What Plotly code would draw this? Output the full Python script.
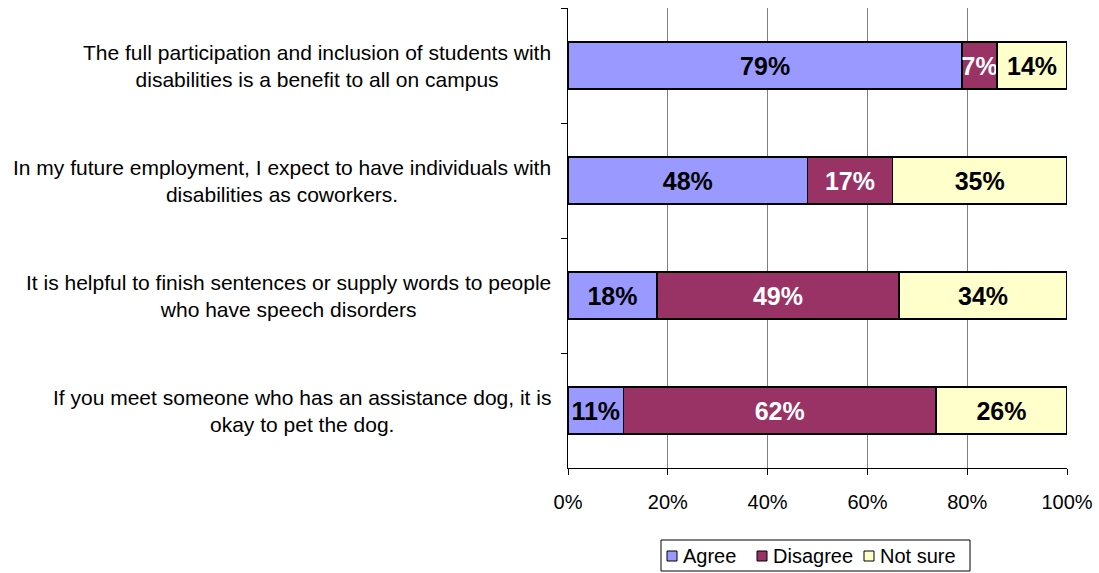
import plotly.graph_objects as go

statements = [
    "The full participation and inclusion of students with<br>disabilities is a benefit to all on campus",
    "In my future employment, I expect to have individuals with<br>disabilities as coworkers.",
    "It is helpful to finish sentences or supply words to people<br>who have speech disorders",
    "If you meet someone who has an assistance dog, it is<br>okay to pet the dog.",
]
agree = [79, 48, 18, 11]
disagree = [7, 17, 49, 62]
not_sure = [14, 35, 34, 26]

series_names = ["Agree", "Disagree", "Not sure"]
series_values = [agree, disagree, not_sure]
series_colors = ["#9999FF", "#993366", "#FFFFCC"]
label_colors = ["black", "white", "black"]

FONT = "Liberation Sans, Arial, sans-serif"

W, H = 1099, 573
ML, MR, MT, MB = 568, 32, 8, 105
PW, PH = W - ML - MR, H - MT - MB


def px_to_paper(px, py):
    return (px - ML) / PW, (H - MB - py) / PH


fig = go.Figure()
for name, vals, color, txtcol in zip(series_names, series_values, series_colors, label_colors):
    fig.add_trace(go.Bar(
        name=name,
        y=statements,
        x=vals,
        orientation="h",
        marker=dict(color=color, line=dict(color="black", width=1.5)),
        text=[f"{v}%" for v in vals],
        textposition="inside",
        insidetextanchor="middle",
        textangle=0,
        textfont=dict(family=FONT, size=25, color=txtcol, weight="bold"),
        cliponaxis=False,
        showlegend=False,
    ))

# statement labels, centred block right-aligned to the axis
for s in statements:
    fig.add_annotation(
        x=0, xref="paper", y=s, yref="y",
        text=s, showarrow=False,
        xanchor="right", xshift=-15, align="center",
        font=dict(family=FONT, size=21, color="black"),
    )

# compact boxed legend below the axis
bx0, by0 = px_to_paper(661, 540)
bx1, by1 = px_to_paper(970, 571)
fig.add_shape(type="rect", xref="paper", yref="paper",
              x0=bx0, x1=bx1, y0=by1, y1=by0,
              line=dict(color="black", width=1), fillcolor="white")
legend_x = [667, 757, 864]
for lx, name, color in zip(legend_x, series_names, series_colors):
    sx0, sy0 = px_to_paper(lx, 551)
    sx1, sy1 = px_to_paper(lx + 10, 561)
    fig.add_shape(type="rect", xref="paper", yref="paper",
                  x0=sx0, x1=sx1, y0=sy1, y1=sy0,
                  line=dict(color="black", width=1), fillcolor=color)
    tx, ty = px_to_paper(lx + 14, 556)
    fig.add_annotation(x=tx, y=ty, xref="paper", yref="paper",
                       text=name, showarrow=False,
                       xanchor="left", yanchor="middle",
                       font=dict(family=FONT, size=20, color="black"))

fig.update_layout(
    barmode="stack",
    barnorm="percent",
    bargap=0.59,
    width=W, height=H,
    margin=dict(l=ML, r=MR, t=MT, b=MB),
    paper_bgcolor="white",
    plot_bgcolor="white",
    font=dict(family=FONT, size=20, color="black"),
    uniformtext=dict(minsize=25, mode="show"),
    showlegend=False,
    xaxis=dict(
        range=[0, 100],
        tickvals=[0, 20, 40, 60, 80, 100],
        ticktext=["0%", "20%", "40%", "60%", "80%", "100%"],
        showgrid=True, gridcolor="#808080", gridwidth=1,
        showline=True, linecolor="black", linewidth=1,
        ticks="outside", ticklen=6, tickcolor="black",
        ticklabelstandoff=10,
        zeroline=False,
        automargin=False,
        tickfont=dict(family=FONT, size=20),
    ),
    yaxis=dict(
        autorange="reversed",
        showticklabels=False,
        showline=True, linecolor="black", linewidth=1,
        ticks="outside", ticklen=6, tickcolor="black",
        tickson="boundaries",
        showgrid=False,
        automargin=False,
    ),
)

fig.write_html("out.html")
